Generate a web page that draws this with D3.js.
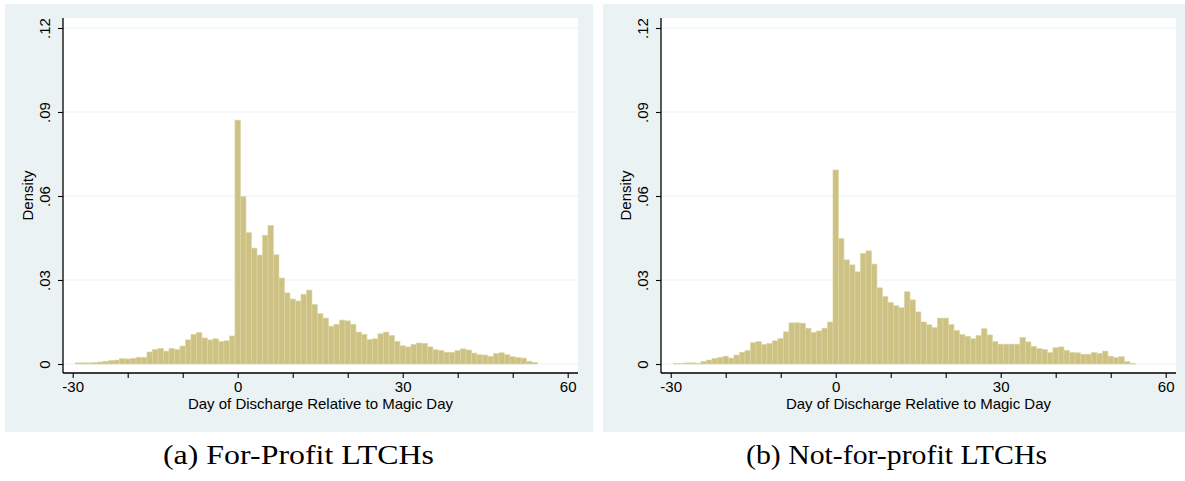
<!DOCTYPE html>
<html>
<head>
<meta charset="utf-8">
<script src="https://cdn.jsdelivr.net/npm/d3@7"></script>
<style>
  html, body { margin: 0; padding: 0; background: #ffffff; }
  svg { display: block; }
</style>
</head>
<body>
<svg id="chart" width="1185" height="481"></svg>
<script>
// ---- data ----
const days = d3.range(-29, 55); // discrete bins -29 ... 54
const forProfit = [
  0.0004, 0.0004, 0.0004, 0.0005, 0.0007, 0.0010, 0.0012, 0.0014, 0.0019, 0.0018,
  0.0020, 0.0024, 0.0024, 0.0043, 0.0052, 0.0056, 0.0046, 0.0056, 0.0052, 0.0064,
  0.0086, 0.0106, 0.0112, 0.0093, 0.0086, 0.0090, 0.0080, 0.0083, 0.0100,
  0.0871, 0.0598, 0.0469, 0.0414, 0.0389, 0.0460, 0.0495, 0.0390, 0.0307, 0.0254,
  0.0232, 0.0225, 0.0249, 0.0264, 0.0213, 0.0180, 0.0164, 0.0135, 0.0142, 0.0157,
  0.0154, 0.0142, 0.0114, 0.0106, 0.0087, 0.0090, 0.0108, 0.0114, 0.0102, 0.0081,
  0.0065, 0.0061, 0.0070, 0.0075, 0.0074, 0.0061, 0.0051, 0.0048, 0.0042, 0.0042,
  0.0048, 0.0054, 0.0050, 0.0039, 0.0033, 0.0032, 0.0027, 0.0037, 0.0040, 0.0033,
  0.0026, 0.0023, 0.0021, 0.0010, 0.0006
];
const notForProfit = [
  0.0002, 0.0002, 0.0004, 0.0004, 0.0003, 0.0009, 0.0014, 0.0020, 0.0024, 0.0028,
  0.0021, 0.0032, 0.0042, 0.0048, 0.0076, 0.0080, 0.0070, 0.0073, 0.0083, 0.0091,
  0.0115, 0.0147, 0.0147, 0.0146, 0.0128, 0.0113, 0.0118, 0.0128, 0.0150,
  0.0693, 0.0448, 0.0372, 0.0354, 0.0329, 0.0395, 0.0404, 0.0357, 0.0272, 0.0241,
  0.0220, 0.0208, 0.0201, 0.0258, 0.0229, 0.0186, 0.0150, 0.0140, 0.0130, 0.0164,
  0.0164, 0.0141, 0.0120, 0.0105, 0.0099, 0.0090, 0.0102, 0.0126, 0.0104, 0.0080,
  0.0071, 0.0071, 0.0071, 0.0071, 0.0095, 0.0079, 0.0063, 0.0055, 0.0052, 0.0041,
  0.0058, 0.0061, 0.0049, 0.0041, 0.0040, 0.0035, 0.0035, 0.0041, 0.0038, 0.0046,
  0.0028, 0.0023, 0.0026, 0.0009, 0.0003
];
const xTickValues = [-30, -20, -10, 0, 10, 20, 30, 40, 50, 60];
const xTickLabels = ["-30", "", "", "0", "", "", "30", "", "", "60"];
const yTickValues = [0, 0.03, 0.06, 0.09, 0.12];
const yTickLabels = ["0", ".03", ".06", ".09", ".12"];
const xTitle = "Day of Discharge Relative to Magic Day";
const yTitle = "Density";
const captions = ["(a) For-Profit LTCHs", "(b) Not-for-profit LTCHs"];
const panelSeries = [forProfit, notForProfit];

// ---- drawing ----
const svg = d3.select("#chart");
const BG = "#eaf2f3";
const BAR = "#cdc283";
const BAR_EDGE = "#ddd6a4";
const AXIS_FONT = "'Liberation Sans', Arial, sans-serif";
const AXIS_SIZE = 15;
const CAPTION_WIDTH = [271, 301];

panelSeries.forEach((vals, p) => {
  const ox = p * 598;
  const g = svg.append("g").attr("transform", `translate(${ox},0)`);

  // outer graph region
  g.append("rect").attr("x", 5).attr("y", 4).attr("width", 588).attr("height", 428).attr("fill", BG);
  // plot region
  const plotL = 63, plotR = 578, plotT = 18, plotB = 373;
  g.append("rect").attr("x", plotL).attr("y", plotT).attr("width", plotR - plotL).attr("height", plotB - plotT).attr("fill", "#ffffff");

  const x = d3.scaleLinear().domain([-30, 60]).range([72.7, 567.7]);
  const y = d3.scaleLinear().domain([0, 0.12]).range([364, 28]);

  // gridlines
  g.append("g").selectAll("line").data(yTickValues).join("line")
    .attr("x1", plotL).attr("x2", plotR)
    .attr("y1", d => y(d)).attr("y2", d => y(d))
    .attr("stroke", BG).attr("stroke-width", 1.2);

  // bars
  const data = days.map((d, i) => ({ day: d, v: vals[i] }));
  g.append("g").selectAll("rect").data(data).join("rect")
    .attr("x", d => x(d.day - 0.5))
    .attr("width", d => x(d.day + 0.5) - x(d.day - 0.5))
    .attr("y", d => y(d.v))
    .attr("height", d => y(0) - y(d.v))
    .attr("fill", BAR)
    .attr("stroke", BAR_EDGE)
    .attr("stroke-width", 0.6);

  // x axis
  const xAxis = d3.axisBottom(x).tickValues(xTickValues)
    .tickFormat((d, i) => xTickLabels[i]).tickSize(5).tickSizeOuter(0).tickPadding(3);
  const xg = g.append("g").attr("transform", `translate(0,${plotB})`).call(xAxis);
  xg.select(".domain").remove();
  xg.append("line").attr("x1", plotL).attr("x2", plotR).attr("y1", 0).attr("y2", 0)
    .attr("stroke", "#000").attr("stroke-width", 1.3);
  xg.selectAll(".tick line").attr("stroke", "#000").attr("stroke-width", 1.1);
  xg.selectAll(".tick text").attr("font-family", AXIS_FONT).attr("font-size", AXIS_SIZE).attr("fill", "#000");

  // y axis
  const yAxis = d3.axisLeft(y).tickValues(yTickValues)
    .tickFormat((d, i) => yTickLabels[i]).tickSize(5).tickSizeOuter(0);
  const yg = g.append("g").attr("transform", `translate(${plotL},0)`).call(yAxis);
  yg.select(".domain").remove();
  yg.append("line").attr("x1", 0).attr("x2", 0).attr("y1", plotT).attr("y2", plotB)
    .attr("stroke", "#000").attr("stroke-width", 1.3);
  yg.selectAll(".tick line").attr("stroke", "#000").attr("stroke-width", 1.1);
  yg.selectAll(".tick text")
    .attr("x", null).attr("dy", null)
    .attr("transform", "translate(-13,0) rotate(-90)")
    .attr("text-anchor", "middle")
    .attr("font-family", AXIS_FONT).attr("font-size", AXIS_SIZE).attr("fill", "#000");

  // axis titles
  g.append("text").attr("x", (plotL + plotR) / 2).attr("y", 408.5)
    .attr("text-anchor", "middle").attr("font-family", AXIS_FONT).attr("font-size", AXIS_SIZE)
    .attr("fill", "#000").text(xTitle);
  g.append("text").attr("transform", `translate(32.5,${(plotT + plotB) / 2}) rotate(-90)`)
    .attr("text-anchor", "middle").attr("font-family", AXIS_FONT).attr("font-size", AXIS_SIZE)
    .attr("fill", "#000").text(yTitle);

  // caption
  g.append("text").attr("x", 298.5).attr("y", 464)
    .attr("text-anchor", "middle").attr("font-family", "'Liberation Serif', 'Times New Roman', serif")
    .attr("font-size", 26.5).attr("fill", "#000")
    .attr("textLength", CAPTION_WIDTH[p]).attr("lengthAdjust", "spacingAndGlyphs")
    .text(captions[p]);
});
</script>
</body>
</html>
